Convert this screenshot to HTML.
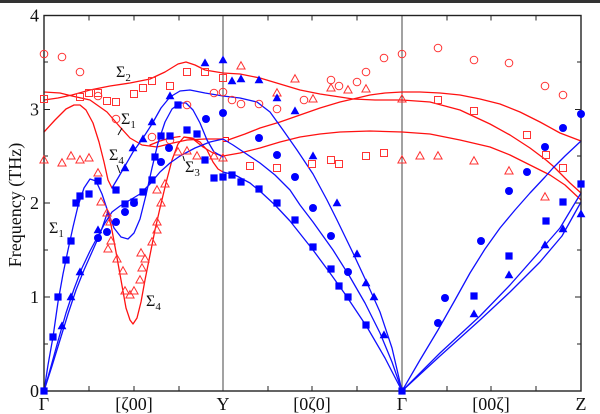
<!DOCTYPE html>
<html><head><meta charset="utf-8"><style>
html,body{margin:0;padding:0;background:#fff;}
svg{display:block;}
text{font-family:"Liberation Serif",serif;fill:#111;}
</style></head><body>
<svg width="600" height="414" viewBox="0 0 600 414" xmlns="http://www.w3.org/2000/svg">
<defs>
<circle id="rc" r="3.8" fill="none" stroke="#f33" stroke-width="1"/>
<rect id="rs" x="-3.5" y="-3.5" width="7" height="7" fill="none" stroke="#f33" stroke-width="1"/>
<polygon id="rt" points="0,-4.3 4.1,3 -4.1,3" fill="none" stroke="#f33" stroke-width="1"/>
<rect id="bs" x="-3.6" y="-3.6" width="7.2" height="7.2" fill="#0000ff"/>
<circle id="bc" r="4" fill="#0000ff"/>
<polygon id="bt" points="0,-4.6 4.4,3.2 -4.4,3.2" fill="#0000ff"/>
</defs>
<rect x="0" y="0" width="600" height="3" fill="#333"/>

<!-- vertical separators -->
<line x1="223" y1="15.5" x2="223" y2="391" stroke="#444" stroke-width="1"/>
<line x1="402" y1="15.5" x2="402" y2="391" stroke="#444" stroke-width="1"/>

<!-- ticks -->
<g stroke="#222" stroke-width="1">
<path d="M89,391v-5M134,391v-5M179,391v-5M268,391v-5M312,391v-5M357,391v-5M447,391v-5M491,391v-5M536,391v-5"/>
<path d="M89,15.5v5M134,15.5v5M179,15.5v5M268,15.5v5M312,15.5v5M357,15.5v5M447,15.5v5M491,15.5v5M536,15.5v5"/>
<path d="M44,297h6M44,203h6M44,109.5h6M44,344h4M44,250h4M44,156h4M44,62h4"/>
<path d="M581,297h-6M581,203h-6M581,109.5h-6M581,344h-4M581,250h-4M581,156h-4M581,62h-4"/>
</g>

<g fill="none" stroke-width="1.3" stroke-linejoin="round" stroke-linecap="round">
<!-- RED curves -->
<g stroke="#f11">
<polyline points="44,100 58,98 72,95 90,90 110,86 130,83 150,79 165,72 178,64 186,62 195,65 205,70 223,73 240,74 260,78 280,84 300,90 320,94 340,97 353,99 375,100 402,100 430,102 460,110 490,124 510,135 530,148 546,160 553,166 560,173 570,183 581,193"/>
<polyline points="44,92 60,93 72,96 90,100 107,112 120,127 130,138 142,145 157,147 173,143 187,140 205,139 223,139"/>
<polyline points="228,140 245,134 260,128 280,122 300,115 320,108 340,102 353,99 370,95 385,93 402,92 420,92 440,93 460,95 480,99 500,104 520,112 540,122 560,133 581,141"/>
<polyline points="44,132 55,120 66,109 74,105 80,105 86,110 93,123 99,142 104,162 108,180 112,188"/>
<polyline points="107,212 111,225 116,252 121,280 126,308 130,320 133,324 137,318 141,302 145,280 150,255 155,230 160,208 166,183 172,160 178,144 184,137 192,138 200,142 207,150 213,162 218,169 223,172"/>
<polyline points="184,137 193,139 203,147 213,153 223,156 240,153 260,148 280,142 300,137 320,134 340,132 370,131 402,132 430,134 460,140 490,147 510,155 530,165 550,175 565,185 581,200"/>
<polyline points="150,145 160,141 170,138 180,136.5"/>
<rect x="223" y="137.5" width="5.5" height="4" stroke-width="1"/>
</g>
<!-- BLUE curves -->
<g stroke="#1010ff">
<polyline points="44,391 48,365 53,337 58,302 63,274 68,250 73,227 78,206 84,188 90,179 96,181 102,194 108,212 114,228 121,237 128,239 134,233 140,219 146,195 152,168 158,143 165,122 172,109 180,103 186,103 193,110 200,123 207,140 214,152 223,157"/>
<polyline points="44,391 50,370 58,341 66,313 74,289 82,268 90,251 98,236 105,223 112,212 120,206 130,200 140,194 150,184 160,172 170,163 180,156 195,148 210,142 223,139"/>
<polyline points="44,391 52,366 60,340 68,314 76,290 84,270 92,252 100,234 107,214"/>
<polyline points="112,188 118,178 125,166 133,152 143,138 152,124 161,108 170,97 180,91 190,90 205,93 223,96 240,98 257,102 270,112 283,130 297,150 313,174 327,200 337,220 353,253 367,283 380,312 392,348 402,391"/>
<polyline points="223,139 233,145 245,153 260,163 275,175 290,190 300,205 313,222 333,250 350,277 365,303 380,333 392,362 402,391"/>
<polyline points="223,172 235,175 250,183 262,193 275,205 290,221 313,250 330,273 345,294 367,327 385,358 402,391"/>
<polyline points="402,391 420,360 438,330 455,300 470,273 485,249 500,228 515,210 530,193 545,177 553,168 565,156 581,141"/>
<polyline points="402,391 440,353 480,316 510,285 540,251 560,228 581,193"/>
<polyline points="402,391 440,356 480,320 510,292 540,262 562,236 581,202"/>
</g>
</g>

<!-- frame -->
<rect x="44" y="15.5" width="537" height="375.5" fill="none" stroke="#222" stroke-width="1.4"/>

<!-- red open circles -->
<g>
<use href="#rc" x="44" y="54"/><use href="#rc" x="62" y="57"/><use href="#rc" x="80" y="72"/><use href="#rc" x="98" y="96"/><use href="#rc" x="116" y="119"/><use href="#rc" x="152" y="137"/><use href="#rc" x="170" y="140"/><use href="#rc" x="187" y="105"/><use href="#rc" x="214" y="93"/><use href="#rc" x="223" y="92"/><use href="#rc" x="232" y="100"/><use href="#rc" x="241" y="104"/><use href="#rc" x="259" y="104"/><use href="#rc" x="277" y="109"/><use href="#rc" x="304" y="100"/><use href="#rc" x="331" y="80"/><use href="#rc" x="339" y="86"/><use href="#rc" x="357" y="82"/><use href="#rc" x="366" y="72"/><use href="#rc" x="384" y="58"/><use href="#rc" x="402" y="54"/><use href="#rc" x="438" y="48"/><use href="#rc" x="474" y="60"/><use href="#rc" x="509" y="63"/><use href="#rc" x="545" y="86"/><use href="#rc" x="563" y="95"/>
</g>
<!-- red open squares -->
<g>
<use href="#rs" x="44" y="99"/><use href="#rs" x="80" y="97"/><use href="#rs" x="89" y="93"/><use href="#rs" x="98" y="93"/><use href="#rs" x="107" y="101"/><use href="#rs" x="116" y="102"/><use href="#rs" x="134" y="94"/><use href="#rs" x="143" y="88"/><use href="#rs" x="152" y="81"/><use href="#rs" x="170" y="86"/><use href="#rs" x="187" y="72"/><use href="#rs" x="205" y="72"/><use href="#rs" x="223" y="78"/><use href="#rs" x="250" y="166"/><use href="#rs" x="277" y="168"/><use href="#rs" x="312" y="164"/><use href="#rs" x="331" y="160"/><use href="#rs" x="339" y="164"/><use href="#rs" x="366" y="156"/><use href="#rs" x="384" y="153"/><use href="#rs" x="438" y="100"/><use href="#rs" x="474" y="111"/><use href="#rs" x="527" y="135"/><use href="#rs" x="546" y="155"/><use href="#rs" x="563" y="168"/>
</g>
<!-- red open triangles -->
<g>
<use href="#rt" x="44" y="160"/><use href="#rt" x="62" y="163"/><use href="#rt" x="71" y="156"/><use href="#rt" x="80" y="160"/><use href="#rt" x="89" y="158"/><use href="#rt" x="98" y="173"/><use href="#rt" x="101" y="202"/><use href="#rt" x="107" y="213"/><use href="#rt" x="110" y="222"/><use href="#rt" x="111" y="241"/><use href="#rt" x="108" y="249"/><use href="#rt" x="117" y="259"/><use href="#rt" x="123" y="271"/><use href="#rt" x="125" y="291"/><use href="#rt" x="130" y="295"/><use href="#rt" x="134" y="291"/><use href="#rt" x="140" y="280"/><use href="#rt" x="142" y="268"/><use href="#rt" x="145" y="259"/><use href="#rt" x="141" y="253"/><use href="#rt" x="152" y="242"/><use href="#rt" x="157" y="230"/><use href="#rt" x="157" y="222"/><use href="#rt" x="161" y="203"/><use href="#rt" x="157" y="190"/><use href="#rt" x="165" y="184"/><use href="#rt" x="178" y="152"/><use href="#rt" x="187" y="151"/><use href="#rt" x="197" y="156"/><use href="#rt" x="214" y="156"/><use href="#rt" x="223" y="158"/><use href="#rt" x="241" y="66"/><use href="#rt" x="277" y="93"/><use href="#rt" x="295" y="79"/><use href="#rt" x="313" y="99"/><use href="#rt" x="331" y="88"/><use href="#rt" x="348" y="90"/><use href="#rt" x="366" y="89"/><use href="#rt" x="402" y="99"/><use href="#rt" x="402" y="160"/><use href="#rt" x="420" y="156"/><use href="#rt" x="438" y="156"/><use href="#rt" x="474" y="161"/><use href="#rt" x="509" y="171"/><use href="#rt" x="545" y="197"/>
</g>
<!-- blue squares -->
<g>
<use href="#bs" x="44" y="391"/><use href="#bs" x="53" y="337"/><use href="#bs" x="58" y="297"/><use href="#bs" x="66" y="260"/><use href="#bs" x="71" y="241"/><use href="#bs" x="76" y="203"/><use href="#bs" x="80" y="196"/><use href="#bs" x="89" y="194"/><use href="#bs" x="98" y="181"/><use href="#bs" x="116" y="190"/><use href="#bs" x="125" y="204"/><use href="#bs" x="134" y="202"/><use href="#bs" x="143" y="192"/><use href="#bs" x="152" y="180"/><use href="#bs" x="155" y="157"/><use href="#bs" x="161" y="136"/><use href="#bs" x="170" y="136"/><use href="#bs" x="178" y="105"/><use href="#bs" x="187" y="130"/><use href="#bs" x="197" y="134"/><use href="#bs" x="205" y="160"/><use href="#bs" x="214" y="178"/><use href="#bs" x="223" y="177"/><use href="#bs" x="232" y="175"/><use href="#bs" x="241" y="182"/><use href="#bs" x="259" y="189"/><use href="#bs" x="277" y="203"/><use href="#bs" x="295" y="220"/><use href="#bs" x="313" y="247"/><use href="#bs" x="331" y="269"/><use href="#bs" x="339" y="286"/><use href="#bs" x="348" y="297"/><use href="#bs" x="366" y="325"/><use href="#bs" x="402" y="391"/><use href="#bs" x="474" y="296"/><use href="#bs" x="509" y="256"/><use href="#bs" x="546" y="221"/><use href="#bs" x="563" y="202"/><use href="#bs" x="581" y="184"/>
</g>
<!-- blue circles -->
<g>
<use href="#bc" x="98" y="238"/><use href="#bc" x="107" y="232"/><use href="#bc" x="116" y="222"/><use href="#bc" x="125" y="212"/><use href="#bc" x="134" y="203"/><use href="#bc" x="161" y="162"/><use href="#bc" x="169" y="148"/><use href="#bc" x="206" y="119"/><use href="#bc" x="223" y="113"/><use href="#bc" x="259" y="138"/><use href="#bc" x="277" y="155"/><use href="#bc" x="295" y="177"/><use href="#bc" x="313" y="208"/><use href="#bc" x="331" y="236"/><use href="#bc" x="348" y="272"/><use href="#bc" x="438" y="323"/><use href="#bc" x="445" y="298"/><use href="#bc" x="481" y="241"/><use href="#bc" x="509" y="191"/><use href="#bc" x="527" y="172"/><use href="#bc" x="545" y="147"/><use href="#bc" x="563" y="128"/><use href="#bc" x="581" y="114"/>
</g>
<!-- blue triangles -->
<g>
<use href="#bt" x="62" y="326"/><use href="#bt" x="71" y="297"/><use href="#bt" x="80" y="272"/><use href="#bt" x="98" y="230"/><use href="#bt" x="125" y="168"/><use href="#bt" x="133" y="148"/><use href="#bt" x="143" y="139"/><use href="#bt" x="152" y="122"/><use href="#bt" x="170" y="96"/><use href="#bt" x="205" y="63"/><use href="#bt" x="223" y="60"/><use href="#bt" x="232" y="81"/><use href="#bt" x="241" y="79"/><use href="#bt" x="259" y="80"/><use href="#bt" x="277" y="98"/><use href="#bt" x="295" y="111"/><use href="#bt" x="313" y="156"/><use href="#bt" x="337" y="203"/><use href="#bt" x="357" y="254"/><use href="#bt" x="366" y="283"/><use href="#bt" x="374" y="297"/><use href="#bt" x="384" y="335"/><use href="#bt" x="474" y="314"/><use href="#bt" x="509" y="275"/><use href="#bt" x="545" y="245"/><use href="#bt" x="563" y="229"/><use href="#bt" x="581" y="214"/>
</g>

<!-- sigma labels -->
<g font-size="16">
<text x="116" y="77">Σ<tspan font-size="11" dy="4">2</tspan></text>
<text x="121" y="124">Σ<tspan font-size="11" dy="4">1</tspan></text>
<text x="109" y="160">Σ<tspan font-size="11" dy="4">4</tspan></text>
<text x="185" y="172">Σ<tspan font-size="11" dy="4">3</tspan></text>
<text x="49" y="233">Σ<tspan font-size="11" dy="4">1</tspan></text>
<text x="146" y="306">Σ<tspan font-size="11" dy="4">4</tspan></text>
</g>
<g stroke="#111" stroke-width="1">
<line x1="118" y1="135" x2="122" y2="128"/>
<line x1="117" y1="165" x2="120" y2="173"/>
<line x1="183" y1="156" x2="184.5" y2="161"/>
</g>

<!-- axis labels -->
<g font-size="18" text-anchor="end">
<text x="39" y="397">0</text>
<text x="39" y="303">1</text>
<text x="39" y="209">2</text>
<text x="39" y="115.5">3</text>
<text x="39" y="21.5">4</text>
</g>
<g font-size="18" text-anchor="middle">
<text x="44" y="410">Γ</text>
<text x="134" y="410">[ζ00]</text>
<text x="223" y="410">Y</text>
<text x="312" y="410">[0ζ0]</text>
<text x="402" y="410">Γ</text>
<text x="491" y="410">[00ζ]</text>
<text x="581" y="410">Z</text>
</g>
<text x="0" y="0" font-size="18" text-anchor="middle" transform="translate(21,205) rotate(-90)">Frequency (THz)</text>
</svg>
</body></html>
